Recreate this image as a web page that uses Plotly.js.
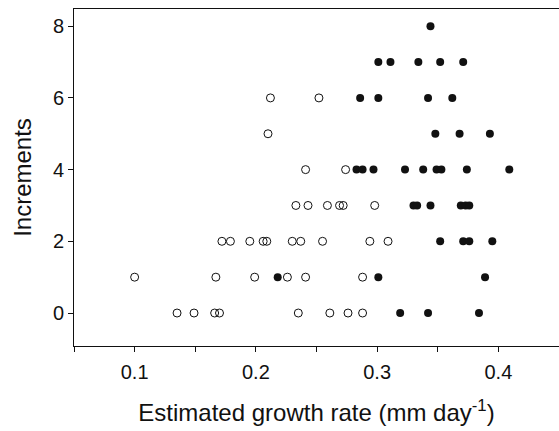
<!DOCTYPE html>
<html>
<head>
<meta charset="utf-8">
<script src="https://cdn.plot.ly/plotly-3.0.1.min.js"></script>
<style>
  html, body { margin: 0; padding: 0; background: #fff; }
  #chart { width: 559px; height: 431px; }
</style>
</head>
<body>
<div id="chart"></div>
<script>
// Open circles: growth rate (mm/day) and increment count
const openGrowth = [
  0.212, 0.252,
  0.210,
  0.241, 0.274,
  0.233, 0.243, 0.259, 0.269, 0.272, 0.298,
  0.172, 0.179, 0.195, 0.206, 0.209, 0.230, 0.237, 0.255, 0.294, 0.309,
  0.100, 0.167, 0.199, 0.226, 0.241, 0.288,
  0.135, 0.149, 0.166, 0.170, 0.235, 0.261, 0.276, 0.288
];
const openIncrements = [
  6, 6,
  5,
  4, 4,
  3, 3, 3, 3, 3, 3,
  2, 2, 2, 2, 2, 2, 2, 2, 2, 2,
  1, 1, 1, 1, 1, 1,
  0, 0, 0, 0, 0, 0, 0, 0
];

// Filled circles
const filledGrowth = [
  0.344,
  0.301, 0.311, 0.334, 0.352, 0.371,
  0.286, 0.301, 0.342, 0.362,
  0.348, 0.368, 0.393,
  0.283, 0.288, 0.297, 0.323, 0.338, 0.349, 0.353, 0.374, 0.409,
  0.330, 0.333, 0.344, 0.369, 0.373, 0.376,
  0.352, 0.371, 0.376, 0.395,
  0.218, 0.301, 0.389,
  0.319, 0.342, 0.384
];
const filledIncrements = [
  8,
  7, 7, 7, 7, 7,
  6, 6, 6, 6,
  5, 5, 5,
  4, 4, 4, 4, 4, 4, 4, 4, 4,
  3, 3, 3, 3, 3, 3,
  2, 2, 2, 2,
  1, 1, 1,
  0, 0, 0
];

const yTickVals = [0, 2, 4, 6, 8];
const xTickVals = [0.1, 0.2, 0.3, 0.4];
const xTickText = ['0.1', '0.2', '0.3', '0.4'];

const ink = '#111111';
const fontFamily = '"Liberation Sans", Arial, Helvetica, sans-serif';

const traces = [
  {
    type: 'scatter', mode: 'markers',
    x: openGrowth, y: openIncrements,
    marker: { symbol: 'circle-open', size: 8, color: ink, line: { width: 1, color: ink } },
    hoverinfo: 'x+y', showlegend: false
  },
  {
    type: 'scatter', mode: 'markers',
    x: filledGrowth, y: filledIncrements,
    marker: { symbol: 'circle', size: 8, color: ink },
    hoverinfo: 'x+y', showlegend: false
  }
];

const layout = {
  width: 559, height: 431,
  margin: { l: 74, r: 0, t: 9, b: 85 },
  paper_bgcolor: '#ffffff', plot_bgcolor: '#ffffff',
  font: { family: fontFamily, color: ink, size: 20 },
  xaxis: {
    range: [0.05, 0.45],
    tickvals: xTickVals, ticktext: xTickText,
    ticks: 'outside', ticklen: 5, tickwidth: 1, tickcolor: ink,
    ticklabelstandoff: 3,
    minor: { dtick: 0.05, tick0: 0, ticks: 'outside', ticklen: 5, tickwidth: 1, tickcolor: ink, showgrid: false },
    showline: true, linecolor: ink, linewidth: 1, mirror: true,
    showgrid: false, zeroline: false,
    tickfont: { size: 20, family: fontFamily, color: ink },
    title: { text: 'Estimated growth rate (mm day<sup>-1</sup>)', font: { size: 24, family: fontFamily, color: ink }, standoff: 22 },
    automargin: false
  },
  yaxis: {
    range: [-0.92, 8.48],
    tickvals: yTickVals,
    ticks: 'outside', ticklen: 5, tickwidth: 1, tickcolor: ink,
    showline: true, linecolor: ink, linewidth: 1, mirror: false,
    showgrid: false, zeroline: false,
    tickfont: { size: 20, family: fontFamily, color: ink },
    title: { text: 'Increments', font: { size: 24, family: fontFamily, color: ink }, standoff: 14 },
    automargin: false
  }
};

Plotly.newPlot('chart', traces, layout, { staticPlot: true, displayModeBar: false });
</script>
</body>
</html>
